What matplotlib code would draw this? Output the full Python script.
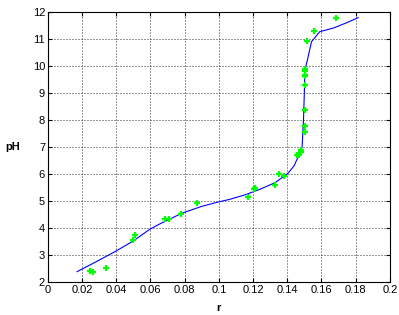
import matplotlib
matplotlib.use("Agg")
import matplotlib.pyplot as plt

# measured points (r, pH)
r_meas = [0.0246, 0.0261, 0.0339, 0.0497, 0.0509, 0.0684, 0.0709, 0.0780,
          0.0873, 0.1168, 0.1205, 0.1210, 0.1331, 0.1349, 0.1380, 0.1458,
          0.1468, 0.1481, 0.1480, 0.1503, 0.1503, 0.1503, 0.1501, 0.1505,
          0.1505, 0.1505, 0.1505, 0.1513, 0.1556, 0.1688]
ph_meas = [2.41, 2.37, 2.53, 3.57, 3.75, 4.34, 4.34, 4.52,
           4.92, 5.15, 5.44, 5.48, 5.60, 5.98, 5.92, 6.69,
           6.72, 6.80, 6.89, 7.54, 7.78, 8.37, 9.31, 9.63,
           9.67, 9.81, 9.89, 10.94, 11.28, 11.77]

# model curve (r, pH)
r_fit = [0.0171, 0.0280, 0.0392, 0.0500, 0.0596, 0.0655, 0.0782, 0.0900,
         0.0996, 0.1064, 0.1150, 0.1240, 0.1330, 0.1405, 0.1440, 0.1464,
         0.1487, 0.1495, 0.1500, 0.1503, 0.1518, 0.1542, 0.1590, 0.1668,
         0.1747, 0.1815]
ph_fit = [2.38, 2.74, 3.12, 3.52, 3.95, 4.15, 4.54, 4.80,
          4.96, 5.06, 5.22, 5.43, 5.68, 6.03, 6.30, 6.64,
          7.00, 8.00, 9.00, 9.85, 10.22, 10.90, 11.27, 11.40,
          11.60, 11.79]

x_ticks = [0, 0.02, 0.04, 0.06, 0.08, 0.1, 0.12, 0.14, 0.16, 0.18, 0.2]
x_labels = ["0", "0.02", "0.04", "0.06", "0.08", "0.1", "0.12", "0.14",
            "0.16", "0.18", "0.2"]
y_ticks = [2, 3, 4, 5, 6, 7, 8, 9, 10, 11, 12]

plt.rcParams['font.family'] = ['Liberation Sans', 'DejaVu Sans']

fig = plt.figure(figsize=(3.99, 3.15), dpi=100)
ax = fig.add_axes([0.120, 0.105, 0.857, 0.857])

ax.plot(r_fit, ph_fit, color='#0000ff', lw=0.8, zorder=3)
ax.plot(r_meas, ph_meas, linestyle='none', marker='+', color='#00ff00',
        markersize=4, markeredgewidth=1.6, zorder=4)

ax.set_xlim(0, 0.2)
ax.set_ylim(2, 12)
ax.set_xticks(x_ticks)
ax.set_xticklabels(x_labels)
ax.set_yticks(y_ticks)
ax.tick_params(direction='in', top=True, right=True, length=3,
               labelsize=8, pad=2)
# MATLAB-like sparse dotted grid
ax.grid(True, linestyle=(0, (1, 2)), color='#333333', linewidth=0.72)
for s in ax.spines.values():
    s.set_linewidth(0.8)

ax.set_xlabel('r', fontsize=8, fontweight='bold', labelpad=6)
ax.set_ylabel('pH', fontsize=8, fontweight='bold', rotation=0, labelpad=14,
              va='center')

fig.savefig('out.png', dpi=100)
